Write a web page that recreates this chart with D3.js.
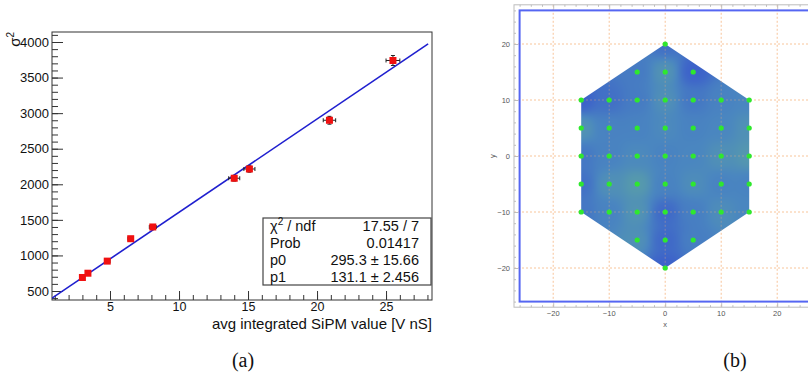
<!DOCTYPE html>
<html><head><meta charset="utf-8">
<script src="https://cdn.jsdelivr.net/npm/d3@7"></script>
<style>body{margin:0;background:#fff}svg{display:block}</style>
</head><body><svg id="c" width="808" height="378"></svg>
<script>
// ---------- Panel (a) data ----------
const fitX    = [3.0, 3.4, 4.8, 6.5, 8.1, 14.0, 15.1, 20.9, 25.5];
const fitY    = [690, 750, 920, 1235, 1400, 2085, 2215, 2900, 3740];
const fitXErr = [0.15, 0.15, 0.2, 0.2, 0.25, 0.4, 0.4, 0.45, 0.5];
const fitYErr = [15, 15, 20, 25, 30, 40, 45, 55, 70];
const fitP0 = 295.3, fitP1 = 131.1;
const statLabels = ["χ", "Prob", "p0", "p1"];
const statValues = ["17.55 / 7", "0.01417", "295.3 ± 15.66", "131.1 ± 2.456"];
const xTicksA = [5, 10, 15, 20, 25];
const yTicksA = [500, 1000, 1500, 2000, 2500, 3000, 3500, 4000];
const xTitleA = "avg integrated SiPM value [V nS]";

// ---------- Panel (b) data ----------
const hexVertices = [[0,20],[15,10],[15,-10],[0,-20],[-15,-10],[-15,10]];
const sensorX = [0,
  -5,0,5,
  -15,-10,-5,0,5,10,15,
  -15,-10,-5,0,5,10,15,
  -15,-10,-5,0,5,10,15,
  -15,-10,-5,0,5,10,15,
  -15,-10,-5,0,5,10,15,
  -5,0,5,
  0];
const sensorY = [20,
  15,15,15,
  10,10,10,10,10,10,10,
  5,5,5,5,5,5,5,
  0,0,0,0,0,0,0,
  -5,-5,-5,-5,-5,-5,-5,
  -10,-10,-10,-10,-10,-10,-10,
  -15,-15,-15,
  -20];
const sensorVal = [0.2,
  0.35,0.7,0.0,
  0.0,0.2,0.35,0.65,0.3,0.45,0.5,
  0.7,0.45,0.45,0.55,0.45,0.5,0.65,
  0.3,0.45,0.55,0.45,0.5,0.65,0.75,
  0.2,0.65,0.8,0.45,0.6,0.45,0.45,
  0.3,0.45,0.7,0.1,0.4,0.6,0.5,
  0.65,0.1,0.4,
  0.0];
const xTicksB = [-20, -10, 0, 10, 20];
const yTicksB = [-20, -10, 0, 10, 20];
const panelLabels = ["(a)", "(b)"];

const svg = d3.select("#c");

// ================= Panel (a) =================
const A = {l:52, t:32, r:432, b:300};
const xA = d3.scaleLinear().domain([0.797, 28.33]).range([A.l, A.r]);
const yA = d3.scaleLinear().domain([373.5, 4140.6]).range([A.b, A.t]);
const ga = svg.append("g").attr("font-family", "Liberation Sans, Arial, sans-serif");
const axisCol = "#333";

ga.append("rect").attr("x", A.l).attr("y", A.t).attr("width", A.r - A.l).attr("height", A.b - A.t)
  .attr("fill", "none").attr("stroke", axisCol).attr("stroke-width", 1);

// y axis minor + major
const yMinor = d3.range(400, 4101, 100);
ga.append("g").attr("transform", `translate(${A.l},0)`)
  .call(d3.axisLeft(yA).tickValues(yMinor).tickSize(-6).tickFormat(""))
  .call(g => g.select(".domain").remove())
  .call(g => g.selectAll("line").attr("stroke", axisCol));
ga.append("g").attr("transform", `translate(${A.l},0)`)
  .call(d3.axisLeft(yA).tickValues(yTicksA).tickSize(-11).tickPadding(3).tickFormat(d3.format("d")))
  .call(g => g.select(".domain").remove())
  .call(g => g.selectAll("line").attr("stroke", axisCol))
  .call(g => g.selectAll("text").attr("font-size", 13).attr("fill", "#111").attr("font-family", "Liberation Sans, Arial, sans-serif"));

// x axis minor + major
const xMinor = d3.range(1, 29, 1);
ga.append("g").attr("transform", `translate(0,${A.b})`)
  .call(d3.axisBottom(xA).tickValues(xMinor).tickSize(-5).tickFormat(""))
  .call(g => g.select(".domain").remove())
  .call(g => g.selectAll("line").attr("stroke", axisCol));
ga.append("g").attr("transform", `translate(0,${A.b})`)
  .call(d3.axisBottom(xA).tickValues(xTicksA).tickSize(-9).tickPadding(2).tickFormat(d3.format("d")))
  .call(g => g.select(".domain").remove())
  .call(g => g.selectAll("line").attr("stroke", axisCol))
  .call(g => g.selectAll("text").attr("font-size", 12.5).attr("fill", "#111").attr("font-family", "Liberation Sans, Arial, sans-serif"));

// axis titles
ga.append("text").attr("x", A.r).attr("y", 329).attr("text-anchor", "end")
  .attr("font-size", 15).attr("fill", "#111").text(xTitleA);
const sig = ga.append("text").attr("transform", `translate(20,${A.t}) rotate(-90)`)
  .attr("text-anchor", "end").attr("font-size", 15).attr("fill", "#111");
sig.append("tspan").text("σ");
sig.append("tspan").attr("font-size", 10).attr("dy", -6).text("2");

// fit line
svg.append("clipPath").attr("id", "clipA").append("rect")
  .attr("x", A.l).attr("y", A.t).attr("width", A.r - A.l).attr("height", A.b - A.t);
const xLine = [0.797, 28.05];
ga.append("line").attr("clip-path", "url(#clipA)")
  .attr("x1", xA(xLine[0])).attr("y1", yA(fitP0 + fitP1 * xLine[0]))
  .attr("x2", xA(xLine[1])).attr("y2", yA(fitP0 + fitP1 * xLine[1]))
  .attr("stroke", "#1f1fcf").attr("stroke-width", 1.6);

// error bars and markers
const pts = fitX.map((x, i) => ({x, y: fitY[i], ex: fitXErr[i], ey: fitYErr[i]}));
const eg = ga.append("g").attr("stroke", "#222").attr("stroke-width", 1);
pts.forEach(p => {
  eg.append("line").attr("x1", xA(p.x - p.ex)).attr("x2", xA(p.x + p.ex)).attr("y1", yA(p.y)).attr("y2", yA(p.y));
  eg.append("line").attr("x1", xA(p.x)).attr("x2", xA(p.x)).attr("y1", yA(p.y - p.ey)).attr("y2", yA(p.y + p.ey));
  [p.x - p.ex, p.x + p.ex].forEach(xe => eg.append("line").attr("x1", xA(xe)).attr("x2", xA(xe)).attr("y1", yA(p.y) - 2).attr("y2", yA(p.y) + 2));
  [p.y - p.ey, p.y + p.ey].forEach(ye => eg.append("line").attr("x1", xA(p.x) - 2).attr("x2", xA(p.x) + 2).attr("y1", yA(ye)).attr("y2", yA(ye)));
});
ga.append("g").selectAll("rect").data(pts).join("rect")
  .attr("x", d => xA(d.x) - 3.5).attr("y", d => yA(d.y) - 3.5).attr("width", 7).attr("height", 7)
  .attr("fill", "#f01010");

// stats box
const SB = {l:263, t:218, r:431, b:285};
ga.append("rect").attr("x", SB.l).attr("y", SB.t).attr("width", SB.r - SB.l).attr("height", SB.b - SB.t)
  .attr("fill", "#fff").attr("stroke", "#444").attr("stroke-width", 1.2);
const rowH = (SB.b - SB.t) / 4;
statLabels.forEach((lab, i) => {
  const yy = SB.t + rowH * (i + 0.5) + 5;
  const t = ga.append("text").attr("x", SB.l + 7).attr("y", yy).attr("font-size", 14.5).attr("fill", "#111");
  if (i === 0) {
    t.append("tspan").text(lab);
    t.append("tspan").attr("font-size", 10).attr("dy", -6).text("2");
    t.append("tspan").attr("dy", 6).text(" / ndf");
  } else t.text(lab);
  ga.append("text").attr("x", SB.r - 12).attr("y", yy).attr("text-anchor", "end")
    .attr("font-size", 14.5).attr("fill", "#111").text(statValues[i]);
});

// ================= Panel (b) =================
const xB = d3.scaleLinear().domain([-27, 27]).range([514, 816.4]);
const yB = d3.scaleLinear().domain([-27, 27]).range([307.2, 4.8]);
const gb = svg.append("g").attr("font-family", "Liberation Sans, Arial, sans-serif");
const frameCol = "#bdbdbd";

const gridCol = "#f6b27a";
function drawGrid(g, op) {
  xTicksB.forEach(v => g.append("line").attr("x1", xB(v)).attr("x2", xB(v)).attr("y1", yB(27)).attr("y2", yB(-27))
    .attr("stroke", gridCol).attr("stroke-opacity", op).attr("stroke-width", 1).attr("stroke-dasharray", "2,2"));
  yTicksB.forEach(v => g.append("line").attr("x1", xB(-27)).attr("x2", xB(27)).attr("y1", yB(v)).attr("y2", yB(v))
    .attr("stroke", gridCol).attr("stroke-opacity", op).attr("stroke-width", 1).attr("stroke-dasharray", "2,2"));
}
drawGrid(gb.append("g"), 0.75);

// blue boundary rect
gb.append("rect").attr("x", xB(-26)).attr("y", yB(26)).attr("width", xB(26) - xB(-26)).attr("height", yB(-26) - yB(26))
  .attr("fill", "none").attr("stroke", "#5566f2").attr("stroke-width", 2);

// heatmap via inverse distance weighting, clipped to hexagon
const color = d3.scaleLinear().domain([0, 0.5, 1]).range(["#3c60ca", "#4a86c0", "#60aa9c"]);
const x0 = Math.floor(xB(-15)) - 1, x1 = Math.ceil(xB(15)) + 1;
const y0 = Math.floor(yB(20)) - 1, y1 = Math.ceil(yB(-20)) + 1;
const cw = x1 - x0, ch = y1 - y0;
const canvas = document.createElement("canvas");
canvas.width = cw; canvas.height = ch;
const ctx = canvas.getContext("2d");
const img = ctx.createImageData(cw, ch);
for (let j = 0; j < ch; j++) {
  for (let i = 0; i < cw; i++) {
    const dx = xB.invert(x0 + i + 0.5), dy = yB.invert(y0 + j + 0.5);
    let wsum = 0, vsum = 0;
    for (let k = 0; k < sensorX.length; k++) {
      const d2 = (dx - sensorX[k]) ** 2 + (dy - sensorY[k]) ** 2 + 4;
      const w = 1 / (d2 * d2);
      wsum += w; vsum += w * sensorVal[k];
    }
    const c = d3.rgb(color(vsum / wsum));
    const idx = (j * cw + i) * 4;
    img.data[idx] = c.r; img.data[idx + 1] = c.g; img.data[idx + 2] = c.b; img.data[idx + 3] = 255;
  }
}
ctx.putImageData(img, 0, 0);
svg.append("clipPath").attr("id", "hexClip").append("polygon")
  .attr("points", hexVertices.map(v => `${xB(v[0])},${yB(v[1])}`).join(" "));
gb.append("image").attr("href", canvas.toDataURL()).attr("x", x0).attr("y", y0)
  .attr("width", cw).attr("height", ch).attr("clip-path", "url(#hexClip)");

drawGrid(gb.append("g").attr("clip-path", "url(#hexClip)"), 0.35);

// sensors
gb.append("g").selectAll("circle").data(sensorX.map((x, i) => [x, sensorY[i]])).join("circle")
  .attr("cx", d => xB(d[0])).attr("cy", d => yB(d[1])).attr("r", 2.6).attr("fill", "#2ee82e");

// frame and ticks
gb.append("rect").attr("x", xB(-27)).attr("y", yB(27)).attr("width", xB(27) - xB(-27)).attr("height", yB(-27) - yB(27))
  .attr("fill", "none").attr("stroke", frameCol).attr("stroke-width", 1);
const minorB = d3.range(-26, 27, 2).filter(v => v % 10 !== 0);
function frameTicks(axisFn, scale, trans, vals, size) {
  gb.append("g").attr("transform", trans)
    .call(axisFn(scale).tickValues(vals).tickSize(size).tickFormat(""))
    .call(g => g.select(".domain").remove())
    .call(g => g.selectAll("line").attr("stroke", frameCol));
}
[[d3.axisBottom, xB, `translate(0,${yB(-27)})`], [d3.axisTop, xB, `translate(0,${yB(27)})`],
 [d3.axisLeft, yB, `translate(${xB(-27)},0)`], [d3.axisRight, yB, `translate(${xB(27)},0)`]].forEach(([f, s, tr]) => {
  frameTicks(f, s, tr, minorB, -2);
  frameTicks(f, s, tr, xTicksB, -4);
});
const fmtB = d => (d < 0 ? "\u2212" + Math.abs(d) : String(d));
gb.append("g").selectAll("text").data(xTicksB).join("text")
  .attr("x", d => xB(d)).attr("y", 316).attr("text-anchor", "middle")
  .attr("font-size", 7.5).attr("fill", "#555").text(fmtB);
gb.append("g").selectAll("text").data(yTicksB).join("text")
  .attr("x", 510).attr("y", d => yB(d) + 2.7).attr("text-anchor", "end")
  .attr("font-size", 7.5).attr("fill", "#555").text(fmtB);
gb.append("text").attr("x", xB(0)).attr("y", 327).attr("text-anchor", "middle")
  .attr("font-size", 7.5).attr("fill", "#555").text("x");
gb.append("text").attr("transform", `translate(495,${yB(0)}) rotate(-90)`).attr("text-anchor", "middle")
  .attr("font-size", 7.5).attr("fill", "#555").text("y");

// panel labels
svg.append("g").attr("font-family", "Liberation Serif, Times New Roman, serif").attr("font-size", 20).attr("fill", "#111")
  .selectAll("text").data(panelLabels).join("text")
  .attr("x", (d, i) => [243, 735][i]).attr("y", 367).attr("text-anchor", "middle").text(d => d);
</script>
</body></html>
